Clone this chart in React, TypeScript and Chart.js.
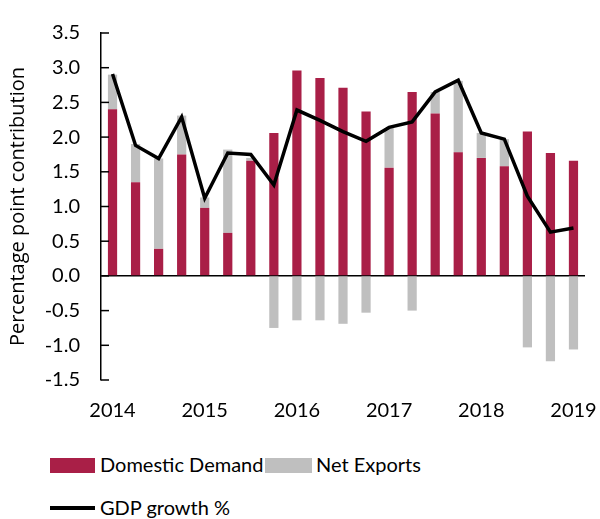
import React, { useEffect, useRef } from 'react';
import { Chart, registerables } from 'chart.js';

Chart.register(...registerables);

// Quarterly data, 2014 Q1 – 2019 Q1
const xTickLabels = [
  '2014', '', '', '',
  '2015', '', '', '',
  '2016', '', '', '',
  '2017', '', '', '',
  '2018', '', '', '',
  '2019',
];

const domesticDemand = [
  2.40, 1.35, 0.39, 1.75,
  0.98, 0.62, 1.66, 2.06,
  2.96, 2.85, 2.71, 2.37,
  1.56, 2.65, 2.34, 1.78,
  1.70, 1.58, 2.08, 1.77,
  1.66,
];

const netExports = [
  0.50, 0.55, 1.30, 0.56,
  0.15, 1.20, 0.04, -0.75,
  -0.64, -0.64, -0.69, -0.53,
  0.57, -0.50, 0.31, 1.03,
  0.36, 0.39, -1.03, -1.23,
  -1.06,
];

const gdpGrowth = [
  2.91, 1.88, 1.69, 2.29,
  1.12, 1.77, 1.75, 1.31,
  2.39, 2.24, 2.08, 1.94,
  2.14, 2.22, 2.65, 2.82,
  2.06, 1.97, 1.15, 0.63,
  0.69,
];

const yMin = -1.5;
const yMax = 3.5;
const yStep = 0.5;

const RED = '#A91F47';
const GRAY = '#BFBFBF';
const TICK_FONT = 'Lato';

const inwardTicks = {
  id: 'inwardTicks',
  afterDraw(chart: any) {
    const y = chart.scales.y;
    const ctx = chart.ctx;
    const left = chart.chartArea.left;
    ctx.save();
    ctx.strokeStyle = '#000';
    ctx.lineWidth = 1.5;
    y.ticks.forEach((t: any) => {
      const py = y.getPixelForValue(t.value);
      ctx.beginPath();
      ctx.moveTo(left, py);
      ctx.lineTo(left + 8, py);
      ctx.stroke();
    });
    ctx.restore();
  },
};

export default function App() {
  const canvasRef = useRef<HTMLCanvasElement | null>(null);

  useEffect(() => {
    if (!canvasRef.current) return;
    const chart = new Chart(canvasRef.current, {
      type: 'bar',
      data: {
        labels: xTickLabels,
        datasets: [
          {
            type: 'line',
            label: 'GDP growth %',
            data: gdpGrowth,
            borderColor: '#000',
            backgroundColor: '#000',
            borderWidth: 3.5,
            pointRadius: 0,
            tension: 0,
            stack: 'gdp',
            order: 0,
          } as any,
          {
            type: 'bar',
            label: 'Domestic Demand',
            data: domesticDemand,
            backgroundColor: RED,
            stack: 'contrib',
            order: 1,
            barPercentage: 0.4,
            categoryPercentage: 1,
          },
          {
            type: 'bar',
            label: 'Net Exports',
            data: netExports,
            backgroundColor: GRAY,
            stack: 'contrib',
            order: 1,
            barPercentage: 0.4,
            categoryPercentage: 1,
          },
        ],
      },
      options: {
        responsive: false,
        animation: false,
        layout: { padding: { top: 27, right: 15, left: 0, bottom: 0 } },
        plugins: {
          legend: { display: false },
          tooltip: { enabled: false },
        },
        scales: {
          x: {
            stacked: true,
            offset: true,
            grid: {
              display: true,
              drawOnChartArea: false,
              drawTicks: true,
              tickLength: 17,
              color: 'transparent',
            },
            border: { display: false },
            ticks: {
              autoSkip: false,
              maxRotation: 0,
              padding: 2,
              color: '#000',
              font: { family: TICK_FONT, size: 20 },
            },
          },
          y: {
            stacked: true,
            min: yMin,
            max: yMax,
            afterFit: (scale: any) => {
              scale.width = 101;
            },
            grid: {
              drawTicks: false,
              lineWidth: 1.5,
              color: (ctx: any) => (ctx.tick && ctx.tick.value === 0 ? '#000' : 'transparent'),
            },
            border: { display: true, color: '#000', width: 1.5 },
            ticks: {
              stepSize: yStep,
              padding: 21,
              color: '#000',
              font: { family: TICK_FONT, size: 20 },
              callback: (v: any) => Number(v).toFixed(1),
            },
            title: {
              display: true,
              text: 'Percentage point contribution',
              color: '#000',
              font: { family: 'Open Sans', size: 20 },
              padding: { top: 6, bottom: 0 },
            },
          },
        },
      },
      plugins: [inwardTicks],
    } as any);
    return () => chart.destroy();
  }, []);

  const textStyle: React.CSSProperties = {
    position: 'absolute',
    fontFamily: 'Lato',
    fontSize: 20,
    lineHeight: '24px',
    color: '#000',
    whiteSpace: 'nowrap',
  };

  return (
    <div
      style={{
        position: 'fixed',
        left: 0,
        top: 0,
        width: 600,
        height: 519,
        background: '#fff',
        overflow: 'hidden',
      }}
    >
      <canvas ref={canvasRef} width={600} height={425} style={{ display: 'block' }} />
      <div style={{ position: 'absolute', left: 50, top: 458, width: 45, height: 15, background: RED }} />
      <span style={{ ...textStyle, left: 100, top: 452 }}>Domestic Demand</span>
      <div style={{ position: 'absolute', left: 265, top: 458, width: 47, height: 15, background: GRAY }} />
      <span style={{ ...textStyle, left: 316, top: 452 }}>Net Exports</span>
      <div style={{ position: 'absolute', left: 50, top: 506, width: 45, height: 3.5, background: '#000' }} />
      <span style={{ ...textStyle, left: 100, top: 495 }}>GDP growth %</span>
    </div>
  );
}
